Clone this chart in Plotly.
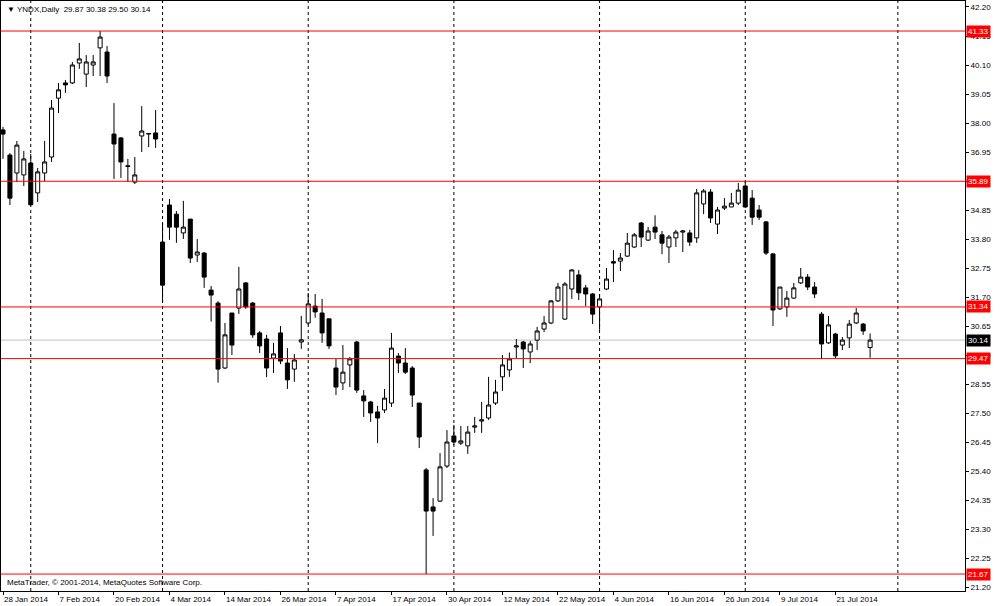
import pandas as pd
import plotly.graph_objects as go

# ---------------- data ----------------
holidays = ["2014-02-17", "2014-04-18", "2014-05-26", "2014-07-04"]
axis_days = [d.strftime("%Y-%m-%d") for d in pd.bdate_range("2014-01-28", "2014-08-01")
             if d.strftime("%Y-%m-%d") not in holidays]

opens = [37.75, 36.84, 36.19, 36.12, 36.55, 35.47, 36.19, 36.77, 38.90, 39.45,
         39.45, 40.17, 39.77, 40.10, 40.72, 40.57, 37.60, 37.46, 36.45, 35.86,
         37.53, 37.60, 37.64, 33.69, 35.03, 34.70, 34.02, 34.52, 33.22, 33.29,
         31.95, 31.48, 29.13, 31.12, 31.30, 32.21, 31.48, 30.40, 30.18, 29.49,
         30.40, 29.31, 29.09, 30.07, 30.76, 31.37, 31.12, 30.91, 29.13, 28.59,
         29.24, 30.07, 28.12, 27.90, 27.54, 27.61, 27.86, 29.56, 29.31, 29.13,
         27.86, 25.44, 24.10, 24.31, 25.58, 26.67, 26.41, 26.31, 26.99, 27.21,
         27.32, 27.86, 28.81, 29.06, 29.89, 30.07, 29.71, 30.14, 30.54, 30.76,
         31.56, 30.90, 31.99, 32.50, 32.03, 31.81, 31.34, 31.99, 32.98, 33.00,
         33.18, 33.51, 34.38, 33.76, 34.23, 33.95, 33.51, 33.84, 34.05, 34.02,
         33.84, 35.07, 35.50, 34.34, 34.92, 34.96, 35.10, 35.72, 35.28, 34.85,
         34.42, 33.26, 31.27, 31.34, 31.66, 32.21, 32.42, 32.06, 31.08, 30.04,
         30.36, 29.96, 30.22, 30.76, 30.72, 29.87]
highs = [37.86, 36.91, 37.35, 36.99, 36.88, 36.37, 37.35, 38.83, 39.45, 39.56,
         40.21, 40.90, 40.46, 40.46, 41.33, 40.79, 38.72, 37.49, 36.70, 36.77,
         38.61, 37.64, 38.47, 34.38, 35.25, 34.81, 35.18, 34.52, 33.80, 33.33,
         32.10, 31.55, 30.76, 31.12, 32.79, 32.24, 31.52, 30.47, 30.33, 30.04,
         30.65, 29.85, 29.64, 31.02, 31.84, 31.81, 31.63, 30.91, 29.46, 29.96,
         29.53, 30.11, 28.33, 27.94, 27.76, 28.37, 30.40, 29.67, 29.85, 29.20,
         27.86, 25.51, 24.42, 26.05, 26.88, 27.07, 27.03, 27.03, 27.36, 27.90,
         28.81, 28.70, 29.60, 29.69, 30.18, 30.11, 30.11, 30.62, 31.01, 31.59,
         32.21, 32.24, 32.71, 32.68, 32.14, 31.84, 31.81, 32.75, 33.40, 33.29,
         34.02, 34.02, 34.42, 34.24, 34.66, 34.09, 33.95, 34.13, 34.13, 34.13,
         35.61, 35.61, 35.61, 34.96, 35.28, 35.47, 35.83, 35.89, 35.57, 35.03,
         34.45, 33.29, 32.06, 31.92, 32.21, 32.75, 32.53, 32.24, 31.16, 31.01,
         30.40, 30.25, 30.87, 31.30, 30.76, 30.38]
lows = [36.70, 35.03, 35.86, 35.72, 35.00, 35.14, 35.90, 36.59, 38.36, 39.09,
        39.41, 39.96, 39.30, 39.70, 39.70, 39.45, 35.97, 36.01, 35.86, 35.79,
        36.95, 37.13, 37.10, 31.48, 33.77, 33.66, 33.80, 32.93, 32.97, 32.03,
        30.81, 28.60, 29.09, 29.60, 31.09, 31.27, 30.22, 29.67, 28.80, 28.95,
        29.27, 28.37, 28.63, 29.82, 30.69, 30.95, 30.04, 29.82, 28.15, 28.33,
        28.44, 28.23, 27.36, 27.18, 26.41, 27.50, 27.72, 28.95, 28.91, 27.72,
        26.23, 21.67, 23.05, 24.28, 25.51, 26.34, 26.34, 26.02, 26.78, 26.78,
        27.25, 27.79, 28.30, 28.81, 29.49, 29.13, 29.31, 29.78, 30.43, 30.72,
        31.52, 30.87, 31.63, 31.59, 31.37, 30.72, 30.51, 31.95, 32.24, 32.64,
        33.15, 33.47, 33.51, 33.73, 33.80, 33.25, 32.93, 33.51, 33.33, 33.55,
        33.66, 34.70, 34.38, 33.98, 34.85, 34.96, 35.03, 34.92, 34.31, 34.49,
        33.22, 30.65, 31.23, 30.98, 31.63, 32.17, 31.95, 31.66, 29.45, 30.00,
        29.47, 29.78, 29.85, 30.72, 30.33, 29.50]
closes = [37.60, 35.28, 37.20, 36.70, 35.04, 36.23, 36.59, 38.54, 39.20, 39.38,
          40.10, 40.32, 40.21, 40.21, 41.11, 39.70, 37.24, 36.59, 36.43, 36.12,
          37.71, 37.62, 37.42, 32.13, 34.23, 34.23, 34.23, 33.11, 33.33, 32.42,
          31.77, 29.09, 30.33, 29.96, 31.99, 31.34, 30.33, 29.93, 29.13, 29.64,
          29.38, 28.70, 29.42, 30.15, 31.45, 31.16, 30.40, 29.93, 28.44, 28.98,
          29.46, 28.33, 27.94, 27.50, 27.32, 28.04, 29.85, 29.31, 28.98, 28.15,
          26.63, 23.95, 23.95, 25.55, 26.45, 26.45, 26.49, 26.81, 27.03, 27.25,
          27.79, 28.26, 29.24, 29.46, 29.93, 29.82, 30.00, 30.47, 30.76, 31.56,
          32.06, 32.17, 32.68, 31.85, 31.81, 31.08, 31.63, 32.35, 32.93, 33.11,
          33.65, 33.95, 33.87, 34.09, 34.05, 33.65, 33.87, 34.05, 34.09, 33.69,
          35.47, 35.54, 34.56, 34.85, 34.99, 35.10, 35.57, 34.96, 34.59, 34.59,
          33.29, 31.23, 32.06, 31.66, 32.03, 32.42, 32.06, 31.81, 30.00, 30.69,
          29.57, 30.14, 30.72, 31.12, 30.47, 30.14]
dates = axis_days[:len(opens)]

tick_dates = ["2014-01-28", "2014-02-07", "2014-02-20", "2014-03-04", "2014-03-14",
              "2014-03-26", "2014-04-07", "2014-04-17", "2014-04-30", "2014-05-12",
              "2014-05-22", "2014-06-04", "2014-06-16", "2014-06-26", "2014-07-09",
              "2014-07-21"]
tick_labels = ["28 Jan 2014", "7 Feb 2014", "20 Feb 2014", "4 Mar 2014", "14 Mar 2014",
               "26 Mar 2014", "7 Apr 2014", "17 Apr 2014", "30 Apr 2014", "12 May 2014",
               "22 May 2014", "4 Jun 2014", "16 Jun 2014", "26 Jun 2014", "9 Jul 2014",
               "21 Jul 2014"]
separators = ["2014-02-03", "2014-03-03", "2014-04-01", "2014-05-01", "2014-06-02",
              "2014-07-01", "2014-08-01"]
y_ticks = [21.20, 22.25, 23.30, 24.35, 25.40, 26.45, 27.50, 28.55, 29.60, 30.65,
           31.70, 32.75, 33.80, 34.85, 35.90, 36.95, 38.00, 39.05, 40.10, 41.15, 42.20]
y_tick_labels = ["21.20", "22.25", "23.30", "24.35", "25.40", "26.45", "27.50", "28.55",
                 "29.60", "30.65", "31.70", "32.75", "33.80", "34.85", "", "36.95",
                 "38.00", "39.05", "40.10", "41.15", "42.20"]
levels = [41.33, 35.89, 31.34, 29.47, 21.67]
bid = 30.14

FONT = "Liberation Sans, Arial, sans-serif"

fig = go.Figure(go.Candlestick(
    x=dates, open=opens, high=highs, low=lows, close=closes,
    increasing=dict(line=dict(color="black", width=1), fillcolor="white"),
    decreasing=dict(line=dict(color="black", width=1), fillcolor="black"),
    whiskerwidth=0, showlegend=False, hoverinfo="skip",
))

shapes = []
for d in separators:
    shapes.append(dict(type="line", xref="x", yref="paper", x0=d, x1=d, y0=0, y1=1,
                       line=dict(color="black", width=1, dash="3px,3px"), layer="below"))
shapes.append(dict(type="line", xref="paper", yref="y", x0=0, x1=1, y0=bid, y1=bid,
                   line=dict(color="#C0C0C0", width=1), layer="below"))
for lv in levels:
    shapes.append(dict(type="line", xref="paper", yref="y", x0=0, x1=1, y0=lv, y1=lv,
                       line=dict(color="#FF0000", width=1), layer="above"))

annotations = []
for lv in levels:
    annotations.append(dict(xref="paper", yref="y", x=1, y=lv, xanchor="left", yanchor="middle",
                            xshift=1, text=f"{lv:.2f}", showarrow=False, bgcolor="#FF0000",
                            borderpad=1, font=dict(family=FONT, size=8, color="white")))
annotations.append(dict(xref="paper", yref="y", x=1, y=bid, xanchor="left", yanchor="middle",
                        xshift=1, text=f"{bid:.2f}", showarrow=False, bgcolor="black",
                        borderpad=1, font=dict(family=FONT, size=8, color="white")))
annotations.append(dict(xref="paper", yref="paper", x=0, y=1, xanchor="left", yanchor="top",
                        xshift=4, yshift=-2, showarrow=False,
                        text="\u25BC YNDX,Daily\u00a0\u00a029.87 30.38 29.50 30.14",
                        font=dict(family=FONT, size=8, color="black")))
annotations.append(dict(xref="paper", yref="paper", x=0, y=0, xanchor="left", yanchor="bottom",
                        xshift=4, yshift=2, showarrow=False,
                        text="MetaTrader, \u00a9 2001-2014, MetaQuotes Software Corp.",
                        font=dict(family=FONT, size=8, color="black")))

fig.update_layout(
    width=1000, height=606,
    margin=dict(l=1, r=35, t=1, b=15, autoexpand=False),
    paper_bgcolor="white", plot_bgcolor="white",
    font=dict(family=FONT, size=8, color="black"),
    boxgap=0.42, boxgroupgap=0,
    shapes=shapes, annotations=annotations,
    xaxis=dict(type="category", categoryorder="array", categoryarray=axis_days,
               range=[-0.288, 138.68], rangeslider=dict(visible=False),
               showgrid=False, zeroline=False, showline=True, mirror=True,
               linecolor="black", linewidth=1, ticks="outside", ticklen=3,
               tickcolor="black", tickvals=tick_dates, ticktext=tick_labels,
               tickangle=0, ticklabelposition="outside right", tickfont=dict(size=8)),
    yaxis=dict(side="right", range=[21.056, 42.417], showgrid=False, zeroline=False,
               showline=True, mirror=True, linecolor="black", linewidth=1,
               ticks="outside", ticklen=3, tickcolor="black",
               tickvals=y_ticks, ticktext=y_tick_labels, tickfont=dict(size=8)),
)

fig.write_html("out.html", config={"displayModeBar": False},
               post_script="document.body.style.margin='0';")
